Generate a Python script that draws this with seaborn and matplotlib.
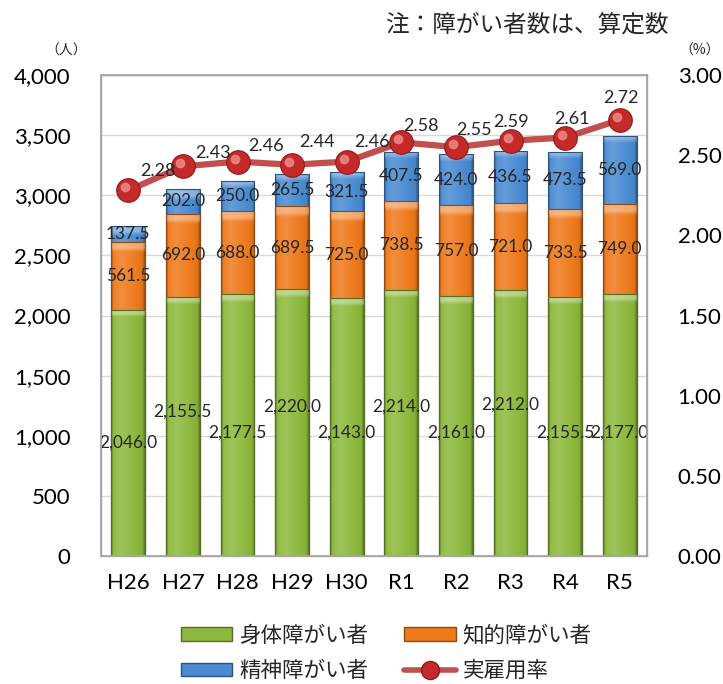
import numpy as np
import matplotlib
matplotlib.use("Agg")
import matplotlib.pyplot as plt
import matplotlib.transforms as mtransforms
import seaborn as sns
from matplotlib.colors import to_rgb
from matplotlib.lines import Line2D
from matplotlib.patches import Patch

# --- data ---
years = ["H26", "H27", "H28", "H29", "H30", "R1", "R2", "R3", "R4", "R5"]
physical = [2046.0, 2155.5, 2177.5, 2220.0, 2143.0, 2214.0, 2161.0, 2212.0, 2155.5, 2177.0]
intellectual = [561.5, 692.0, 688.0, 689.5, 725.0, 738.5, 757.0, 721.0, 733.5, 749.0]
mental = [137.5, 202.0, 250.0, 265.5, 321.5, 407.5, 424.0, 436.5, 473.5, 569.0]
rate = [2.28, 2.43, 2.46, 2.44, 2.46, 2.58, 2.55, 2.59, 2.61, 2.72]

# label placement tweaks (as in the original excel chart)
green_label_y = [945, 1200, 1030, 1240, 1030, 1240, 1030, 1255, 1030, 1030]
rate_label_dx = [30, 30, 29, 25, 25, 20, 18, 1, 7, 1]
rate_label_dy = [19, 13, 16, 23, 20, 16, 17, 19, 19, 22]

GREEN, ORANGE, BLUE = "#8DB83C", "#EE7A1C", "#4A8BD2"
RED_LINE, RED_DOT = "#C0504D", "#C42A2A"

sns.set_theme(style="white")
plt.rcParams["font.family"] = ["Lato", "Noto Sans CJK JP", "DejaVu Sans"]


def shade(color, amount):
    c = np.array(to_rgb(color))
    if amount < 0:
        return c * (1 + amount)
    return c + (1 - c) * amount


def paint_bars(ax, bars, color, z):
    # bevel-like gradient clipped into each bar
    xs = np.linspace(0, 1, 64)
    prof = np.interp(xs, [0, 0.07, 0.3, 0.75, 0.93, 1], [-0.35, 0.05, 0.15, 0.0, -0.05, -0.35])
    row = np.array([shade(color, p) for p in prof])
    for p in bars:
        x0, y0, w, h = p.get_x(), p.get_y(), p.get_width(), p.get_height()
        h_px = h * 481 / 4000
        rows = 80
        band = max(1, int(round(rows * min(0.3, 7 / max(h_px, 1)))))
        img = np.repeat(row[None, :, :], rows, axis=0)
        img[-band:] = np.clip(img[-band:] + (1 - img[-band:]) * 0.35, 0, 1)
        im = ax.imshow(img, extent=[x0, x0 + w, y0, y0 + h], origin="lower",
                       aspect="auto", zorder=z + 0.5, interpolation="bilinear")
        im.set_clip_path(p)
        p.set_facecolor("none")
        p.set_zorder(z + 0.6)


fig = plt.figure(figsize=(7.23, 6.84), dpi=100)
ax = fig.add_axes([101 / 723, 1 - 556 / 684, 546 / 723, (556 - 75) / 684])

tot_go = [g + o for g, o in zip(physical, intellectual)]
tot_all = [t + m for t, m in zip(tot_go, mental)]

for vals, col, z in [(tot_all, BLUE, 2), (tot_go, ORANGE, 3), (physical, GREEN, 4)]:
    n0 = len(ax.patches)
    sns.barplot(x=years, y=vals, color=col, saturation=1, width=0.62, ax=ax,
                zorder=z, edgecolor=shade(col, -0.4), linewidth=0.8)
    paint_bars(ax, ax.patches[n0:], col, z)

ax.set_xlim(-0.5, 9.5)
ax.set_ylim(0, 4000)
ax.set_yticks(range(0, 4001, 500))
ax.set_yticklabels([f"{v:,}" for v in range(0, 4001, 500)])
ax.yaxis.grid(True, color="#D9D9D9", lw=1)
ax.set_axisbelow(True)
ax.tick_params(axis="y", length=0, pad=22, labelsize=16, colors="black")
ax.tick_params(axis="x", length=0, pad=12, labelsize=16, colors="black")
ax.set_xlabel("")
ax.set_ylabel("")
for s in ax.spines.values():
    s.set_color("#A6A6A6")
    s.set_linewidth(1)

# segment labels
lbl = dict(ha="center", va="center", fontsize=12.5, zorder=10)
for i in range(len(years)):
    ax.text(i, green_label_y[i], f"{physical[i]:,.1f}", **lbl)
    ax.text(i, physical[i] + intellectual[i] / 2, f"{intellectual[i]:,.1f}", **lbl)
    ax.text(i, tot_go[i] + mental[i] / 2, f"{mental[i]:,.1f}", **lbl)

# employment rate on the right axis
ax2 = ax.twinx()
sns.lineplot(x=np.arange(len(years)), y=rate, ax=ax2, color=RED_LINE, lw=4.5, marker="o",
             markersize=17, markerfacecolor=RED_DOT, markeredgecolor="#8E1B1B",
             markeredgewidth=0.8, zorder=5)
hl = mtransforms.offset_copy(ax2.transData, fig=fig, x=-3, y=3, units="dots")
ax2.plot(np.arange(len(years)), rate, ls="none", marker="o", markersize=6,
         color="#F08C8C", alpha=0.8, transform=hl, zorder=6)
ax2.set_xlim(-0.5, 9.5)
ax2.set_ylim(0, 3)
ticks2 = np.arange(0, 3.01, 0.5)
ax2.set_yticks(ticks2)
ax2.set_yticklabels([f"{v:.2f}" for v in ticks2])
ax2.tick_params(axis="y", length=0, pad=22, labelsize=16, colors="black")
ax2.set_ylabel("")
ax2.grid(False)
for s in ax2.spines.values():
    s.set_color("#A6A6A6")

for i, r in enumerate(rate):
    ax2.annotate(f"{r:.2f}", (i, r), xytext=(rate_label_dx[i], rate_label_dy[i]),
                 textcoords="offset pixels", ha="center", va="center", fontsize=13, zorder=10)

# units and note
fig.text(66 / 723, 1 - 51 / 684, "（人）", ha="center", va="center", fontsize=10,
         family=["Noto Sans CJK JP"])
fig.text(720 / 723, 1 - 51 / 684, "（%）", ha="right", va="center", fontsize=10,
         family=["Noto Sans CJK JP"])
fig.text(527 / 723, 1 - 25 / 684, "注：障がい者数は、算定数", ha="center", va="center",
         fontsize=17, family=["Noto Sans CJK JP"])

# legend
handles = [
    Patch(facecolor=GREEN, edgecolor=shade(GREEN, -0.4)),
    Patch(facecolor=BLUE, edgecolor=shade(BLUE, -0.4)),
    Patch(facecolor=ORANGE, edgecolor=shade(ORANGE, -0.4)),
    Line2D([], [], color=RED_LINE, lw=4, marker="o", markersize=13,
           markerfacecolor=RED_DOT, markeredgecolor="#8E1B1B"),
]
labels = ["身体障がい者", "精神障がい者", "知的障がい者", "実雇用率"]
fig.legend(handles, labels, loc="upper left", bbox_to_anchor=(170 / 723, 1 - 614 / 684),
           ncol=2, frameon=False, handlelength=2.4, handleheight=0.6,
           handletextpad=0.3, columnspacing=1.7, labelspacing=0.62, borderpad=0,
           prop={"family": ["Noto Sans CJK JP"], "size": 15.5})

fig.savefig("out.png", dpi=100)
